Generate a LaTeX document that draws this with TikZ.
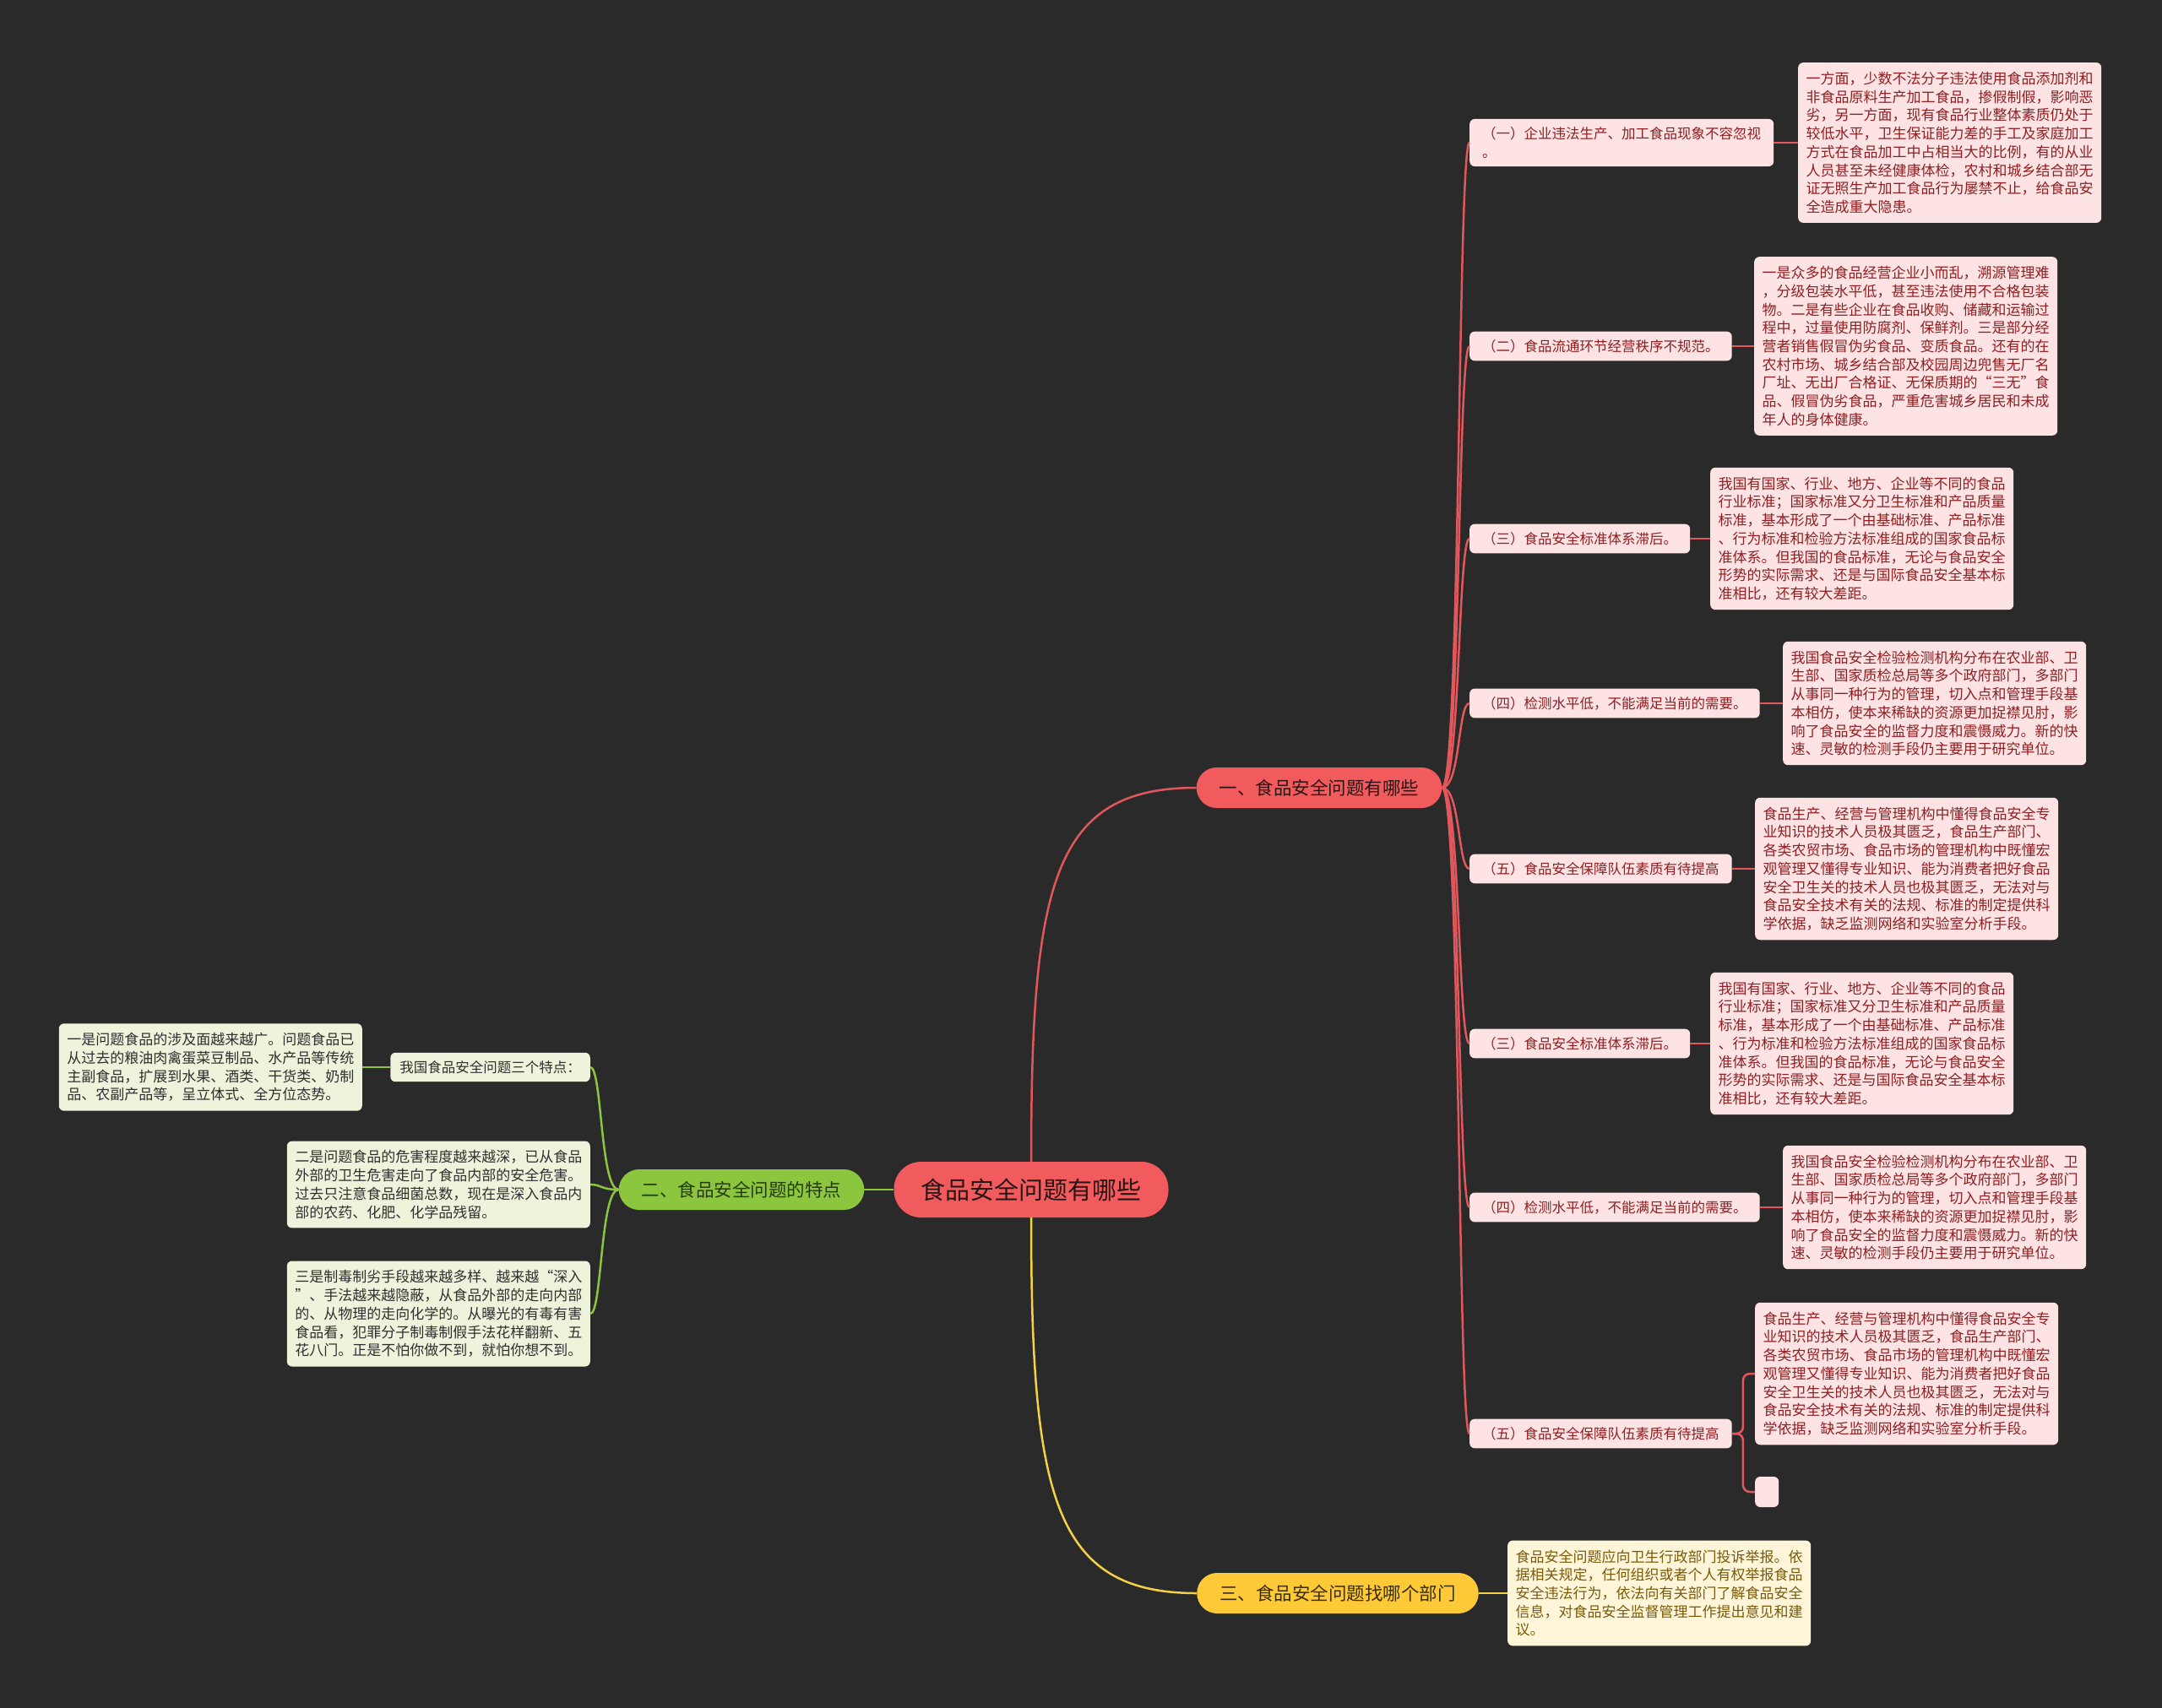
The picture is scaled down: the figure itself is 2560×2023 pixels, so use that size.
\documentclass[tikz,border=0pt]{standalone}
\usepackage{fontspec}
\setmainfont{Noto Sans CJK SC}
\usepackage{tikz}

\definecolor{bgc}{HTML}{2A2A2A}
\definecolor{redfill}{HTML}{F25B5E}
\definecolor{redtext}{HTML}{2B1414}
\definecolor{pinkfill}{HTML}{FDE3E3}
\definecolor{pinktext}{HTML}{8E1F22}
\definecolor{lnred}{HTML}{E2575B}
\definecolor{greenfill}{HTML}{8CC63F}
\definecolor{greentext}{HTML}{263A0F}
\definecolor{lightgreen}{HTML}{EEF3DC}
\definecolor{leafgreentext}{HTML}{2F2F2F}
\definecolor{lngreen}{HTML}{8CC63F}
\definecolor{yellowfill}{HTML}{FFC938}
\definecolor{yellowtext}{HTML}{3A2F00}
\definecolor{lightyellow}{HTML}{FFF6D9}
\definecolor{leafyellowtext}{HTML}{7A5A0A}
\definecolor{lnyellow}{HTML}{F3D044}

\tikzset{
  root/.style={rectangle, rounded corners=32pt, fill=redfill, text=redtext,
    font=\fontsize{29pt}{34pt}\selectfont, minimum height=66pt, inner xsep=32pt},
  topic/.style={rectangle, rounded corners=24pt, minimum height=48pt, inner xsep=27pt,
    font=\fontsize{21.5pt}{26pt}\selectfont},
  subbox/.style={rectangle, rounded corners=6pt, fill=pinkfill, text=pinktext,
    font=\fontsize{16.5pt}{22pt}\selectfont, inner xsep=15pt, inner ysep=9.5pt,
    align=left, anchor=west},
  leaf/.style={rectangle, rounded corners=6pt, font=\fontsize{17pt}{21.7pt}\selectfont,
    text width=340pt, inner xsep=9.5pt, inner ysep=11pt, align=left},
  pinkleaf/.style={leaf, fill=pinkfill, text=pinktext, anchor=west},
  greenleaf/.style={leaf, fill=lightgreen, text=leafgreentext, anchor=east},
  yellowleaf/.style={leaf, fill=lightyellow, text=leafyellowtext, anchor=west},
  redlink/.style={draw=lnred, line width=2.5pt},
  greenlink/.style={draw=lngreen, line width=2.5pt},
  yellowlink/.style={draw=lnyellow, line width=2.5pt}
}

\begin{document}
\begin{tikzpicture}[x=1pt, y=-1pt]
  % Background
  \fill[bgc] (0,0) rectangle (2560,2023);
  \useasboundingbox (0,0) rectangle (2560,2023);

  % Nodes
  \node[root] (c) at (1221,1409) {食品安全问题有哪些};
  \node[topic, fill=redfill, text=redtext] (b1) at (1562,933) {一、食品安全问题有哪些};
  \node[topic, fill=greenfill, text=greentext] (b2) at (878,1409) {二、食品安全问题的特点};
  \node[topic, fill=yellowfill, text=yellowtext] (b3) at (1584,1887) {三、食品安全问题找哪个部门};

  % first branch
  \node[subbox] (s1) at (1740,169) {（一）企业违法生产、加工食品现象不容忽视\\。};
  \node[subbox] (s2) at (1740,410) {（二）食品流通环节经营秩序不规范。};
  \node[subbox] (s3) at (1740,638) {（三）食品安全标准体系滞后。};
  \node[subbox] (s4) at (1740,833) {（四）检测水平低，不能满足当前的需要。};
  \node[subbox] (s5) at (1740,1029) {（五）食品安全保障队伍素质有待提高};
  \node[subbox] (s6) at (1740,1236) {（三）食品安全标准体系滞后。};
  \node[subbox] (s7) at (1740,1430) {（四）检测水平低，不能满足当前的需要。};
  \node[subbox] (s8) at (1740,1698) {（五）食品安全保障队伍素质有待提高};

  \node[pinkleaf] (l1) at (2129,169) {一方面，少数不法分子违法使用食品添加剂和\\非食品原料生产加工食品，掺假制假，影响恶\\劣，另一方面，现有食品行业整体素质仍处于\\较低水平，卫生保证能力差的手工及家庭加工\\方式在食品加工中占相当大的比例，有的从业\\人员甚至未经健康体检，农村和城乡结合部无\\证无照生产加工食品行为屡禁不止，给食品安\\全造成重大隐患。};
  \node[pinkleaf] (l2) at (2077,410) {一是众多的食品经营企业小而乱，溯源管理难\\，分级包装水平低，甚至违法使用不合格包装\\物。二是有些企业在食品收购、储藏和运输过\\程中，过量使用防腐剂、保鲜剂。三是部分经\\营者销售假冒伪劣食品、变质食品。还有的在\\农村市场、城乡结合部及校园周边兜售无厂名\\厂址、无出厂合格证、无保质期的“三无”食\\品、假冒伪劣食品，严重危害城乡居民和未成\\年人的身体健康。};
  \node[pinkleaf] (l3) at (2025,638) {我国有国家、行业、地方、企业等不同的食品\\行业标准；国家标准又分卫生标准和产品质量\\标准，基本形成了一个由基础标准、产品标准\\、行为标准和检验方法标准组成的国家食品标\\准体系。但我国的食品标准，无论与食品安全\\形势的实际需求、还是与国际食品安全基本标\\准相比，还有较大差距。};
  \node[pinkleaf] (l4) at (2111,833) {我国食品安全检验检测机构分布在农业部、卫\\生部、国家质检总局等多个政府部门，多部门\\从事同一种行为的管理，切入点和管理手段基\\本相仿，使本来稀缺的资源更加捉襟见肘，影\\响了食品安全的监督力度和震慑威力。新的快\\速、灵敏的检测手段仍主要用于研究单位。};
  \node[pinkleaf] (l5) at (2078,1029) {食品生产、经营与管理机构中懂得食品安全专\\业知识的技术人员极其匮乏，食品生产部门、\\各类农贸市场、食品市场的管理机构中既懂宏\\观管理又懂得专业知识、能为消费者把好食品\\安全卫生关的技术人员也极其匮乏，无法对与\\食品安全技术有关的法规、标准的制定提供科\\学依据，缺乏监测网络和实验室分析手段。};
  \node[pinkleaf] (l6) at (2025,1236) {我国有国家、行业、地方、企业等不同的食品\\行业标准；国家标准又分卫生标准和产品质量\\标准，基本形成了一个由基础标准、产品标准\\、行为标准和检验方法标准组成的国家食品标\\准体系。但我国的食品标准，无论与食品安全\\形势的实际需求、还是与国际食品安全基本标\\准相比，还有较大差距。};
  \node[pinkleaf] (l7) at (2111,1430) {我国食品安全检验检测机构分布在农业部、卫\\生部、国家质检总局等多个政府部门，多部门\\从事同一种行为的管理，切入点和管理手段基\\本相仿，使本来稀缺的资源更加捉襟见肘，影\\响了食品安全的监督力度和震慑威力。新的快\\速、灵敏的检测手段仍主要用于研究单位。};
  \node[pinkleaf] (l8) at (2078,1627) {食品生产、经营与管理机构中懂得食品安全专\\业知识的技术人员极其匮乏，食品生产部门、\\各类农贸市场、食品市场的管理机构中既懂宏\\观管理又懂得专业知识、能为消费者把好食品\\安全卫生关的技术人员也极其匮乏，无法对与\\食品安全技术有关的法规、标准的制定提供科\\学依据，缺乏监测网络和实验室分析手段。};
  \node[subbox, minimum width=28pt, minimum height=36pt, inner sep=0pt] (e8) at (2078,1767) {};

  % second branch
  \node[rectangle, rounded corners=6pt, fill=lightgreen, text=leafgreentext,
    font=\fontsize{16.5pt}{22pt}\selectfont, inner xsep=11pt, inner ysep=9.5pt,
    anchor=east] (g0) at (699,1264) {我国食品安全问题三个特点：};
  \node[greenleaf] (g1) at (429,1264) {一是问题食品的涉及面越来越广。问题食品已\\从过去的粮油肉禽蛋菜豆制品、水产品等传统\\主副食品，扩展到水果、酒类、干货类、奶制\\品、农副产品等，呈立体式、全方位态势。};
  \node[greenleaf] (g2) at (699,1403) {二是问题食品的危害程度越来越深，已从食品\\外部的卫生危害走向了食品内部的安全危害。\\过去只注意食品细菌总数，现在是深入食品内\\部的农药、化肥、化学品残留。};
  \node[greenleaf] (g3) at (699,1556) {三是制毒制劣手段越来越多样、越来越“深入\\”、手法越来越隐蔽，从食品外部的走向内部\\的、从物理的走向化学的。从曝光的有毒有害\\食品看，犯罪分子制毒制假手法花样翻新、五\\花八门。正是不怕你做不到，就怕你想不到。};

  % third branch
  \node[yellowleaf] (y1) at (1785,1887) {食品安全问题应向卫生行政部门投诉举报。依\\据相关规定，任何组织或者个人有权举报食品\\安全违法行为，依法向有关部门了解食品安全\\信息，对食品安全监督管理工作提出意见和建\\议。};

  % Lines
  \draw[redlink] (c.north) .. controls +(0,-330) and +(-170,0) .. (b1.west);
  \draw[yellowlink] (c.south) .. controls +(0,330) and +(-170,0) .. (b3.west);
  \draw[greenlink] (c.west) -- (b2.east);

  \draw[redlink] (b1.east) .. controls +(22,0) and +(-14,0) .. (s1.west);
  \draw[redlink] (b1.east) .. controls +(22,0) and +(-14,0) .. (s2.west);
  \draw[redlink] (b1.east) .. controls +(22,0) and +(-14,0) .. (s3.west);
  \draw[redlink] (b1.east) .. controls +(22,0) and +(-14,0) .. (s4.west);
  \draw[redlink] (b1.east) .. controls +(22,0) and +(-14,0) .. (s5.west);
  \draw[redlink] (b1.east) .. controls +(22,0) and +(-14,0) .. (s6.west);
  \draw[redlink] (b1.east) .. controls +(22,0) and +(-14,0) .. (s7.west);
  \draw[redlink] (b1.east) .. controls +(22,0) and +(-14,0) .. (s8.west);

  \draw[redlink] (s1.east) -- (l1.west);
  \draw[redlink] (s2.east) -- (l2.west);
  \draw[redlink] (s3.east) -- (l3.west);
  \draw[redlink] (s4.east) -- (l4.west);
  \draw[redlink] (s5.east) -- (l5.west);
  \draw[redlink] (s6.east) -- (l6.west);
  \draw[redlink] (s7.east) -- (l7.west);
  \draw[redlink, rounded corners=8pt] (s8.east) -- ++(13,0) |- (l8.west);
  \draw[redlink, rounded corners=8pt] (s8.east) -- ++(13,0) |- (e8.west);

  \draw[greenlink] (b2.west) .. controls +(-22,0) and +(14,0) .. (g0.east);
  \draw[greenlink] (b2.west) .. controls +(-22,0) and +(14,0) .. (g2.east);
  \draw[greenlink] (b2.west) .. controls +(-22,0) and +(14,0) .. (g3.east);
  \draw[greenlink] (g0.west) -- (g1.east);

  \draw[yellowlink] (b3.east) -- (y1.west);
\end{tikzpicture}
\end{document}
